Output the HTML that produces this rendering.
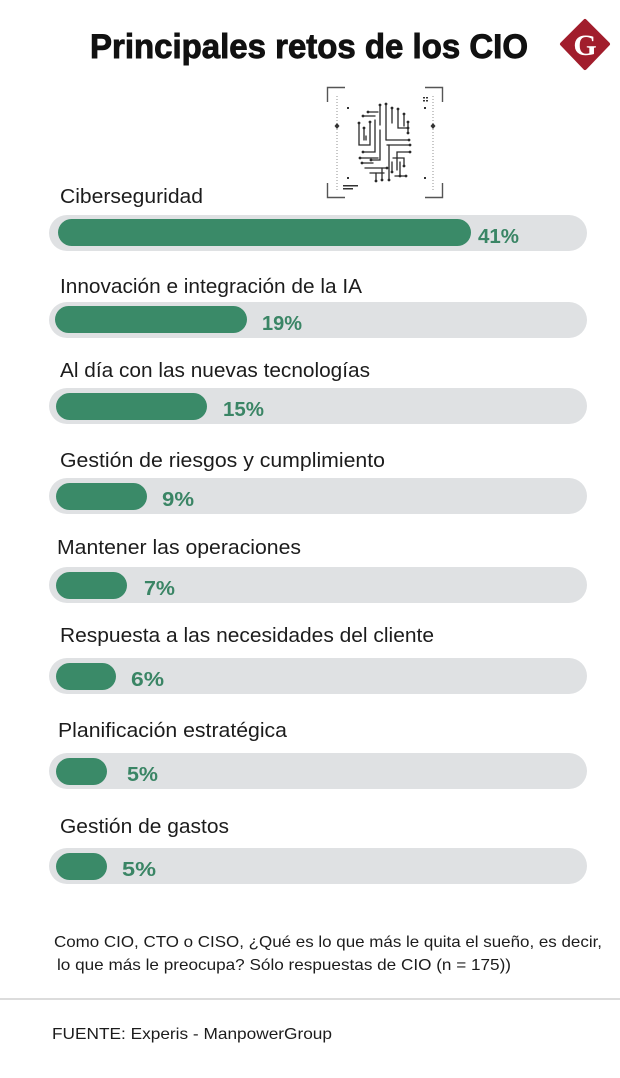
<!DOCTYPE html>
<html>
<head>
<meta charset="utf-8">
<style>
  html,body{margin:0;padding:0;background:#fff;}
  body{width:620px;height:1078px;overflow:hidden;}
  svg{display:block;}
  .lbl{font-family:"Liberation Sans",Arial,sans-serif;font-size:20px;fill:#1c1c1c;}
  .pct{font-family:"Liberation Sans",Arial,sans-serif;font-size:20px;font-weight:bold;fill:#3a8565;}
  .note{font-family:"Liberation Sans",Arial,sans-serif;font-size:16px;fill:#1c1c1c;}
</style>
</head>
<body>
<svg width="620" height="1078" viewBox="0 0 620 1078" xmlns="http://www.w3.org/2000/svg">
  <rect width="620" height="1078" fill="#fff"/>

  <!-- Title -->
  <text x="90" y="58" font-family="'Liberation Sans',Arial,sans-serif" font-size="34" font-weight="bold" fill="#111" stroke="#111" stroke-width="0.9" textLength="438" lengthAdjust="spacingAndGlyphs">Principales retos de los CIO</text>

  <!-- Logo -->
  <polygon points="585,21 608,44 585,68 562,44" fill="#a11d2c" stroke="#a11d2c" stroke-width="4" stroke-linejoin="round"/>
  <text x="585" y="55" text-anchor="middle" font-family="'Liberation Serif',serif" font-size="30" font-weight="bold" fill="#fff">G</text>

  <!-- Icon frame -->
  <g stroke="#555" stroke-width="1.4" fill="none">
    <polyline points="345,87.5 327.5,87.5 327.5,102"/>
    <polyline points="425,87.5 442.5,87.5 442.5,102"/>
    <polyline points="327.5,183 327.5,197.5 345,197.5"/>
    <polyline points="442.5,183 442.5,197.5 425,197.5"/>
  </g>
  <g stroke="#777" stroke-width="0.8" stroke-dasharray="1 2" fill="none">
    <line x1="337" y1="96" x2="337" y2="192"/>
    <line x1="433" y1="96" x2="433" y2="192"/>
  </g>
  <g fill="#333">
    <polygon points="337,123 339.5,126 337,129 334.5,126"/>
    <polygon points="433,123 435.5,126 433,129 430.5,126"/>
    <rect x="347" y="107" width="2" height="2"/>
    <rect x="424" y="107" width="2" height="2"/>
    <rect x="347" y="177" width="2" height="2"/>
    <rect x="424" y="177" width="2" height="2"/>
    <rect x="343" y="185" width="15" height="1.5"/>
    <rect x="343" y="188" width="10" height="1.5"/>
    <rect x="423" y="97" width="2" height="1.5"/>
    <rect x="426" y="97" width="2" height="1.5"/>
    <rect x="423" y="100" width="2" height="1.5"/>
    <rect x="426" y="100" width="2" height="1.5"/>
  </g>

  <!-- Circuit brain -->
  <g stroke="#2a2a2a" stroke-width="1.3" fill="none" stroke-linecap="round">
    <line x1="380" y1="105" x2="380" y2="125"/>
    <line x1="386" y1="104" x2="386" y2="140"/>
    <polyline points="386,140 395,140 409,140"/>
    <line x1="392" y1="108" x2="392" y2="123"/>
    <polyline points="398,109 398,128 408,128"/>
    <line x1="404" y1="114" x2="404" y2="126"/>
    <line x1="408" y1="122" x2="408" y2="133"/>
    <line x1="363" y1="116" x2="375" y2="116"/>
    <line x1="368" y1="112" x2="378" y2="112"/>
    <polyline points="359,123 359,145 370,145 370,122"/>
    <polyline points="364,128 364,140"/>
    <polyline points="375,120 375,152 363,152"/>
    <polyline points="380,130 380,160 371,160"/>
    <line x1="387" y1="145" x2="410" y2="145"/>
    <polyline points="389,145 389,180"/>
    <line x1="360" y1="158" x2="378" y2="158"/>
    <line x1="362" y1="163" x2="373" y2="163"/>
    <line x1="365" y1="168" x2="387" y2="168"/>
    <line x1="382" y1="168" x2="382" y2="180"/>
    <line x1="370" y1="173" x2="384" y2="173"/>
    <polyline points="376,173 376,181"/>
    <polyline points="397,170 397,152 410,152"/>
    <polyline points="393,158 404,158 404,166"/>
    <line x1="400" y1="162" x2="400" y2="176"/>
    <line x1="395" y1="176" x2="406" y2="176"/>
    <line x1="392" y1="162" x2="392" y2="172"/>
    <line x1="366" y1="136" x2="366" y2="140"/>
  </g>
  <g fill="#2a2a2a">
    <circle cx="380" cy="105" r="1.4"/><circle cx="386" cy="104" r="1.4"/>
    <circle cx="392" cy="108" r="1.4"/><circle cx="398" cy="109" r="1.4"/>
    <circle cx="404" cy="114" r="1.4"/><circle cx="408" cy="122" r="1.4"/>
    <circle cx="363" cy="116" r="1.4"/><circle cx="368" cy="112" r="1.4"/>
    <circle cx="409" cy="140" r="1.4"/><circle cx="408" cy="128" r="1.4"/>
    <circle cx="370" cy="122" r="1.4"/><circle cx="359" cy="123" r="1.4"/>
    <circle cx="363" cy="152" r="1.4"/><circle cx="371" cy="160" r="1.4"/>
    <circle cx="410" cy="145" r="1.4"/><circle cx="389" cy="180" r="1.4"/>
    <circle cx="360" cy="158" r="1.4"/><circle cx="362" cy="163" r="1.4"/>
    <circle cx="382" cy="180" r="1.4"/><circle cx="376" cy="181" r="1.4"/>
    <circle cx="410" cy="152" r="1.4"/><circle cx="404" cy="166" r="1.4"/>
    <circle cx="400" cy="176" r="1.4"/><circle cx="406" cy="176" r="1.4"/>
    <circle cx="392" cy="172" r="1.4"/><circle cx="408" cy="133" r="1.4"/>
    <circle cx="364" cy="128" r="1.4"/><circle cx="387" cy="168" r="1.4"/>
  </g>

  <!-- Bars -->
  <g>
    <!-- 1 -->
    <text class="lbl" x="60" y="203" textLength="143" lengthAdjust="spacingAndGlyphs">Ciberseguridad</text>
    <rect x="49" y="215" width="538" height="36" rx="18" fill="#dfe1e3"/>
    <rect x="58" y="219" width="413" height="27" rx="13.5" fill="#3a8a68"/>
    <text class="pct" x="478" y="243" textLength="41" lengthAdjust="spacingAndGlyphs">41%</text>

    <!-- 2 -->
    <text class="lbl" x="60" y="293" textLength="302" lengthAdjust="spacingAndGlyphs">Innovación e integración de la IA</text>
    <rect x="49" y="302" width="538" height="36" rx="18" fill="#dfe1e3"/>
    <rect x="55" y="306" width="192" height="27" rx="13.5" fill="#3a8a68"/>
    <text class="pct" x="262" y="330" textLength="40" lengthAdjust="spacingAndGlyphs">19%</text>

    <!-- 3 -->
    <text class="lbl" x="60" y="377" textLength="310" lengthAdjust="spacingAndGlyphs">Al día con las nuevas tecnologías</text>
    <rect x="49" y="388" width="538" height="36" rx="18" fill="#dfe1e3"/>
    <rect x="56" y="393" width="151" height="27" rx="13.5" fill="#3a8a68"/>
    <text class="pct" x="223" y="416" textLength="41" lengthAdjust="spacingAndGlyphs">15%</text>

    <!-- 4 -->
    <text class="lbl" x="60" y="467" textLength="325" lengthAdjust="spacingAndGlyphs">Gestión de riesgos y cumplimiento</text>
    <rect x="49" y="478" width="538" height="36" rx="18" fill="#dfe1e3"/>
    <rect x="56" y="483" width="91" height="27" rx="13.5" fill="#3a8a68"/>
    <text class="pct" x="162" y="506" textLength="32" lengthAdjust="spacingAndGlyphs">9%</text>

    <!-- 5 -->
    <text class="lbl" x="57" y="554" textLength="244" lengthAdjust="spacingAndGlyphs">Mantener las operaciones</text>
    <rect x="49" y="567" width="538" height="36" rx="18" fill="#dfe1e3"/>
    <rect x="56" y="572" width="71" height="27" rx="13.5" fill="#3a8a68"/>
    <text class="pct" x="144" y="595" textLength="31" lengthAdjust="spacingAndGlyphs">7%</text>

    <!-- 6 -->
    <text class="lbl" x="60" y="642" textLength="374" lengthAdjust="spacingAndGlyphs">Respuesta a las necesidades del cliente</text>
    <rect x="49" y="658" width="538" height="36" rx="18" fill="#dfe1e3"/>
    <rect x="56" y="663" width="60" height="27" rx="13.5" fill="#3a8a68"/>
    <text class="pct" x="131" y="686" textLength="33" lengthAdjust="spacingAndGlyphs">6%</text>

    <!-- 7 -->
    <text class="lbl" x="58" y="737" textLength="229" lengthAdjust="spacingAndGlyphs">Planificación estratégica</text>
    <rect x="49" y="753" width="538" height="36" rx="18" fill="#dfe1e3"/>
    <rect x="56" y="758" width="51" height="27" rx="13.5" fill="#3a8a68"/>
    <text class="pct" x="127" y="781" textLength="31" lengthAdjust="spacingAndGlyphs">5%</text>

    <!-- 8 -->
    <text class="lbl" x="60" y="833" textLength="169" lengthAdjust="spacingAndGlyphs">Gestión de gastos</text>
    <rect x="49" y="848" width="538" height="36" rx="18" fill="#dfe1e3"/>
    <rect x="56" y="853" width="51" height="27" rx="13.5" fill="#3a8a68"/>
    <text class="pct" x="122" y="876" textLength="34" lengthAdjust="spacingAndGlyphs">5%</text>
  </g>

  <!-- Footnote -->
  <text class="note" x="54" y="947" textLength="548" lengthAdjust="spacingAndGlyphs">Como CIO, CTO o CISO, ¿Qué es lo que  más le quita el sueño, es decir,</text>
  <text class="note" x="57" y="970" textLength="454" lengthAdjust="spacingAndGlyphs">lo que más le preocupa? Sólo respuestas  de CIO (n = 175))</text>

  <rect x="0" y="998" width="620" height="2" fill="#dcdcdc"/>

  <text class="note" x="52" y="1039" textLength="280" lengthAdjust="spacingAndGlyphs">FUENTE: Experis - ManpowerGroup</text>
</svg>
</body>
</html>
